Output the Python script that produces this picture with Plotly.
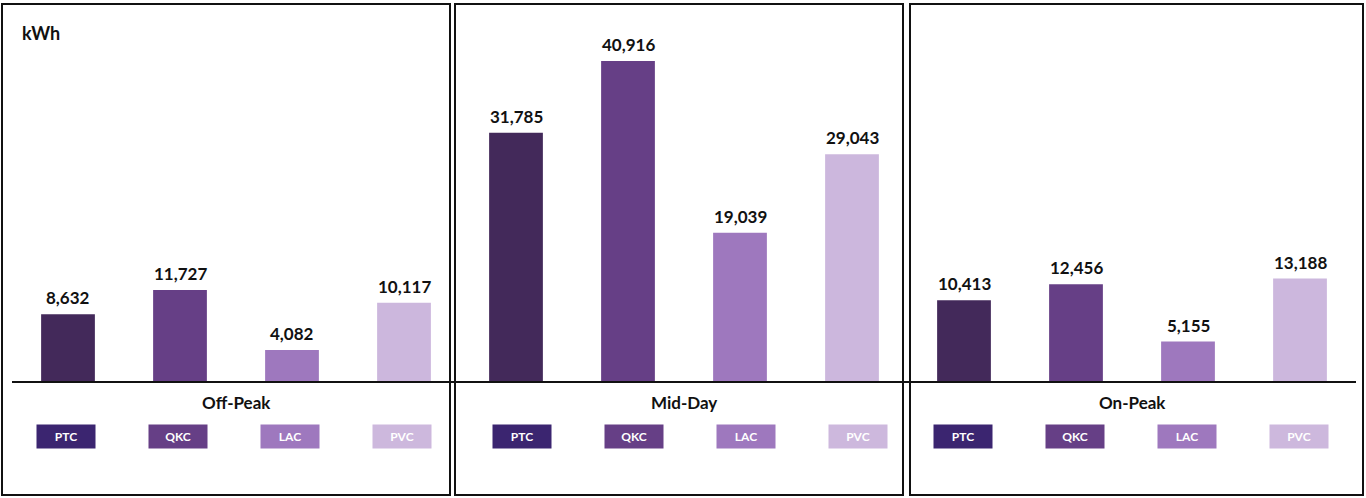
import plotly.graph_objects as go

# Energy use per site and time-of-use period
periods = ["Off-Peak", "Mid-Day", "On-Peak"]
sites = ["PTC", "QKC", "LAC", "PVC"]
off_peak = [8632, 11727, 4082, 10117]
mid_day = [31785, 40916, 19039, 29043]
on_peak = [10413, 12456, 5155, 13188]
unit_label = "kWh"

bar_colors = ["#43295A", "#663F86", "#9E78BE", "#CCB7DD"]
key_colors = ["#3B2570", "#663F86", "#9E78BE", "#CDB8DD"]

W, H = 1366, 498
FONT = "Lato"


def fx(px):
    return px / W


def fy(py):
    return 1 - py / H


# pixel layout of the three panels
base_py = 382          # zero line
top_py = 3
panel_x = [(12, 460), (460, 908), (908, 1356)]
frames = [(2, 450), (455, 903), (910, 1363)]
key_shift = [-2, 6, -1]

y_max = 40916 * (base_py - top_py) / (base_py - 61)

fig = go.Figure()
series = [off_peak, mid_day, on_peak]
annotations = []
shapes = []

for i, (name, vals) in enumerate(zip(periods, series)):
    suffix = "" if i == 0 else str(i + 1)
    xa, ya = "x" + suffix, "y" + suffix
    fig.add_trace(go.Bar(
        x=sites, y=vals, xaxis=xa, yaxis=ya,
        marker=dict(color=bar_colors, line=dict(width=0)),
        width=0.48, showlegend=False, hoverinfo="x+y",
    ))
    d0, d1 = panel_x[i]
    fig.layout["xaxis" + suffix] = dict(
        domain=[fx(d0), fx(d1)], range=[-0.5, 3.5], anchor=ya,
        showticklabels=False, showgrid=False, zeroline=False,
        showline=False, fixedrange=True,
    )
    fig.layout["yaxis" + suffix] = dict(
        domain=[fy(base_py), fy(top_py)], range=[0, y_max], anchor=xa,
        showticklabels=False, showgrid=False, zeroline=False,
        showline=False, fixedrange=True,
    )
    # value labels above bars
    for s, v in zip(sites, vals):
        annotations.append(dict(
            x=s, y=v, xref=xa, yref=ya, text=f"{v:,}",
            showarrow=False, yanchor="bottom", yshift=4,
            font=dict(family=FONT, size=17, color="#111111", weight="bold"),
        ))
    # period name under the zero line
    annotations.append(dict(
        x=1.5, y=fy(402), xref=xa, yref="paper", text=name,
        showarrow=False, xanchor="center", yanchor="middle",
        font=dict(family=FONT, size=17, color="#111111", weight="bold"),
    ))
    # colour key boxes
    for j, s in enumerate(sites):
        annotations.append(dict(
            x=j, y=fy(436.5), xref=xa, yref="paper", text=s,
            showarrow=False, xanchor="center", yanchor="middle",
            xshift=key_shift[i], width=56, height=21,
            bgcolor=key_colors[j], borderpad=1,
            font=dict(family=FONT, size=12, color="white", weight="bold"),
        ))
    # panel frame
    f0, f1 = frames[i]
    shapes.append(dict(
        type="rect", xref="paper", yref="paper",
        x0=fx(f0), x1=fx(f1), y0=fy(495), y1=fy(4),
        line=dict(color="#111111", width=2), layer="above",
    ))

# shared zero line across all panels
shapes.append(dict(
    type="line", xref="paper", yref="paper",
    x0=fx(12), x1=fx(1356), y0=fy(base_py), y1=fy(base_py),
    line=dict(color="#111111", width=2), layer="above",
))

annotations.append(dict(
    x=fx(20), y=fy(33), xref="paper", yref="paper", text=unit_label,
    showarrow=False, xanchor="left", yanchor="middle",
    font=dict(family=FONT, size=18, color="#111111", weight="bold"),
))

fig.update_layout(
    width=W, height=H,
    margin=dict(l=0, r=0, t=0, b=0),
    paper_bgcolor="white", plot_bgcolor="white",
    annotations=annotations, shapes=shapes,
    bargap=0.52,
)

fig.write_html("out.html", config={"displayModeBar": False})
